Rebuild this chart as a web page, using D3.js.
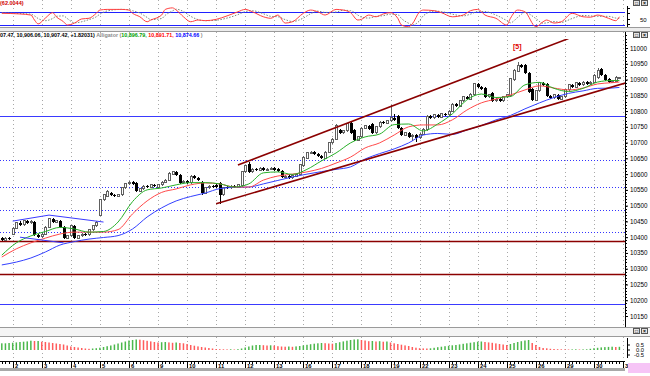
<!DOCTYPE html>
<html>
<head>
<meta charset="utf-8">
<script src="https://cdn.jsdelivr.net/npm/d3@7"></script>
<style>
  body { margin: 0; background: #fff; }
  svg { display: block; font-family: "Liberation Sans", Arial, sans-serif; }
</style>
</head>
<body>
<svg id="chart" width="650" height="376"></svg>
<script>
// ---- data (8 bars per day) ----
const dayLabels = ["2","3","4","5","6","9","10","11","12","13","16","17","18","19","22","23","24","25","26","29","30","31"];

const opens = [
  10397,10391,10397,10410,10429,10445,10439,10452,10445,10448,
  10407,10401,10410,10432,10458,10448,10452,10432,10397,10404,
  10436,10397,10404,10410,10407,10423,10436,10470,10518,10530,
  10540,10534,10530,10534,10556,10569,10575,10572,10546,10553,
  10562,10559,10566,10556,10566,10575,10581,10600,10607,10597,
  10572,10578,10572,10594,10588,10575,10540,10556,10562,10566,
  10572,10534,10559,10556,10562,10559,10563,10607,10632,10607,
  10616,10613,10619,10613,10616,10619,10616,10610,10591,10594,
  10588,10594,10600,10626,10651,10667,10670,10664,10657,10651,
  10670,10699,10711,10740,10731,10737,10762,10740,10708,10718,
  10746,10753,10759,10731,10750,10765,10762,10769,10778,10785,
  10746,10724,10731,10718,10724,10715,10727,10740,10784,10778,
  10788,10781,10791,10788,10800,10822,10816,10832,10845,10838,
  10851,10886,10876,10873,10845,10857,10832,10838,10832,10845,
  10848,10899,10927,10946,10946,10921,10870,10835,10864,10889,
  10886,10848,10842,10851,10838,10845,10867,10883,10876,10889,
  10883,10892,10886,10892,10905,10933,10914,10902,10892,10895,
  10907
];
const highs = [
  10401,10400,10402,10433,10449,10450,10456,10455,10455,10452,
  10411,10413,10436,10462,10461,10456,10455,10435,10408,10440,
  10439,10408,10414,10413,10427,10440,10452,10522,10538,10550,
  10544,10537,10538,10560,10573,10579,10578,10575,10557,10566,
  10565,10570,10569,10569,10578,10585,10607,10611,10610,10600,
  10582,10581,10598,10597,10591,10578,10560,10566,10565,10569,
  10575,10560,10562,10566,10565,10570,10611,10630,10640,10620,
  10619,10623,10622,10620,10623,10622,10619,10613,10598,10597,
  10601,10604,10633,10658,10671,10674,10673,10667,10660,10674,
  10703,10715,10759,10744,10741,10763,10766,10743,10722,10750,
  10757,10756,10762,10754,10769,10768,10773,10819,10790,10788,
  10749,10735,10734,10728,10727,10731,10747,10788,10787,10792,
  10791,10795,10794,10804,10826,10825,10836,10849,10848,10858,
  10890,10889,10879,10876,10855,10860,10842,10841,10849,10855,
  10906,10934,10956,10949,10950,10924,10873,10868,10893,10892,
  10889,10851,10855,10854,10849,10871,10887,10886,10893,10892,
  10896,10895,10896,10918,10937,10936,10917,10905,10899,10912,
  10907.47
];
const lows = [
  10388,10387,10390,10406,10426,10436,10436,10441,10442,10404,
  10397,10398,10407,10430,10445,10444,10429,10393,10394,10401,
  10393,10394,10401,10403,10404,10420,10433,10466,10514,10527,
  10531,10527,10527,10531,10553,10565,10565,10542,10543,10550,
  10555,10556,10558,10552,10563,10572,10578,10597,10594,10568,
  10569,10568,10569,10584,10577,10535,10537,10553,10555,10555,
  10505,10531,10552,10553,10555,10556,10560,10604,10603,10604,
  10609,10610,10609,10610,10613,10609,10606,10587,10588,10584,
  10585,10591,10597,10623,10648,10663,10660,10653,10647,10648,
  10667,10696,10708,10727,10728,10733,10727,10704,10705,10715,
  10743,10739,10727,10728,10747,10758,10759,10766,10768,10742,
  10720,10720,10714,10705,10702,10711,10724,10737,10774,10775,
  10777,10778,10784,10785,10797,10812,10813,10829,10834,10835,
  10848,10872,10866,10841,10842,10828,10829,10828,10829,10842,
  10845,10896,10924,10936,10917,10857,10831,10832,10861,10879,
  10844,10838,10839,10834,10835,10842,10864,10872,10873,10879,
  10880,10882,10883,10889,10902,10910,10895,10888,10889,10892,
  10906.06
];
const closes = [
  10391,10397,10394,10429,10445,10439,10452,10445,10451,10407,
  10401,10410,10432,10458,10448,10452,10432,10397,10404,10436,
  10397,10404,10410,10407,10423,10436,10448,10518,10534,10546,
  10534,10530,10534,10556,10569,10575,10569,10546,10553,10562,
  10559,10566,10562,10566,10575,10581,10603,10607,10597,10572,
  10578,10572,10594,10588,10581,10540,10556,10562,10559,10559,
  10534,10556,10556,10562,10559,10566,10607,10626,10607,10616,
  10613,10619,10613,10616,10619,10613,10610,10591,10594,10588,
  10597,10600,10629,10654,10667,10670,10664,10657,10651,10670,
  10699,10711,10753,10731,10737,10759,10731,10708,10718,10746,
  10753,10743,10731,10750,10765,10762,10769,10778,10772,10746,
  10724,10731,10718,10724,10715,10727,10743,10784,10778,10788,
  10781,10791,10788,10800,10822,10816,10832,10845,10838,10854,
  10886,10876,10870,10845,10851,10832,10838,10832,10845,10851,
  10902,10930,10946,10940,10921,10861,10835,10864,10889,10883,
  10848,10842,10851,10838,10845,10867,10883,10876,10889,10883,
  10892,10886,10892,10914,10930,10914,10899,10892,10895,10908,
  10907.42
];

// Alligator lines, sampled every 4 bars (+ last bar)
const alligatorIdx = [0,4,8,12,16,20,24,28,32,36,40,44,48,52,56,60,64,68,72,76,80,84,88,92,96,100,104,108,112,116,120,124,128,132,136,140,144,148,152,156,160,164,168,170];
const jaw = [10312,10321,10334,10353,10375,10386,10394,10399,10405,10426,10464,10493,10515,10529,10540,10554,10558,10559,10569,10580,10591,10600,10608,10615,10623,10648,10665,10680,10699,10724,10729,10726,10740,10754,10772,10786,10807,10826,10843,10856,10864,10872,10873,10875];
const teeth = [10337,10363,10382,10397,10410,10416,10416,10416,10424,10474,10515,10542,10553,10566,10572,10569,10559,10559,10581,10594,10600,10607,10618,10635,10654,10683,10699,10724,10750,10756,10756,10772,10803,10826,10838,10851,10867,10880,10873,10867,10873,10886,10890,10892];
const lips = [10343,10382,10404,10418,10431,10426,10416,10418,10448,10513,10550,10556,10566,10573,10573,10569,10559,10569,10604,10607,10599,10615,10642,10667,10699,10718,10727,10757,10759,10737,10759,10791,10835,10854,10843,10846,10883,10891,10872,10862,10872,10892,10897,10897];

// horizontal levels drawn on the price pane
const solidBlueLevels = [10785, 10188];
const dottedBlueLevels = [10645, 10559, 10486, 10416];
const redLevels = [10389, 10283];

// hand drawn lines: [bar, price] pairs
const channelUpper = [[65, 10629], [156, 11030]];
const channelLower = [[59, 10506], [172, 10890]];
const triangleUpper = [[3, 10451], [13, 10470], [28, 10448]];
const triangleLower = [[5, 10400], [17, 10382]];

const priceTicks = [11000,10950,10900,10850,10800,10750,10700,10650,10600,10550,10500,10450,10400,10350,10300,10250,10200,10150];

// stochastic (top pane)
const stochIdx = [0,5,8,9,10,12,14,15,17,18,20,22,24,26,27,29,33,35,36,38,40,41,44,45,47,48,50,52,54,56,59,62,65,67,69,72,74,76,78,80,83,85,87,89,92,94,96,98,99,101,103,105,107,109,110,112,113,115,116,119,121,124,127,129,131,133,136,139,140,142,144,147,149,150,152,154,157,160,162,164,167,169,170];
const stochK = [74,71,66,43,25,52,77,58,35,20,29,48,51,74,89,92,92,89,74,58,35,43,66,92,99,89,58,35,43,40,46,62,81,92,81,58,51,66,29,35,74,89,81,66,92,89,77,43,46,66,58,71,77,51,20,12,25,81,89,86,77,58,66,86,92,66,51,20,51,89,81,12,35,43,29,35,74,58,56,66,51,40,58];
const stochD = [76,73,70,62,50,40,50,60,62,50,30,35,45,58,70,85,92,91,86,75,55,45,50,65,85,93,82,60,45,40,42,52,68,82,86,72,60,58,45,36,52,72,84,78,80,88,86,66,56,52,60,63,70,68,50,28,20,40,62,84,82,70,62,70,82,82,66,40,30,55,78,50,28,30,36,32,50,64,62,60,60,52,50];

// histogram (bottom pane), one value per bar
const aoValues = [
  0.67,0.67,0.7,0.73,0.76,0.8,0.83,0.86,0.93,0.9,
  0.9,0.83,0.8,0.75,0.7,0.65,0.6,0.55,0.45,0.35,
  0.3,0.25,0.2,0.15,0.12,0.15,0.18,0.23,0.3,0.38,
  0.45,0.55,0.65,0.75,0.85,0.95,1.0,1.05,1.03,0.98,
  0.92,0.86,0.8,0.75,0.78,0.8,0.76,0.72,0.75,0.7,
  0.67,0.6,0.5,0.43,0.36,0.3,0.25,0.2,0.15,0.1,
  0.08,0.07,0.06,0.07,0.05,0.08,0.15,0.25,0.35,0.45,
  0.5,0.5,0.48,0.45,0.47,0.44,0.38,0.35,0.33,0.35,
  0.32,0.36,0.4,0.46,0.52,0.58,0.63,0.67,0.7,0.68,
  0.65,0.63,0.7,0.78,0.86,0.93,1.0,1.05,1.07,1.0,
  0.95,0.88,0.9,0.85,0.88,0.83,0.85,0.75,0.67,0.6,
  0.53,0.46,0.4,0.3,0.23,0.18,0.16,0.15,0.17,0.22,
  0.28,0.33,0.38,0.42,0.47,0.5,0.56,0.62,0.67,0.73,
  0.78,0.83,0.85,0.8,0.76,0.72,0.66,0.6,0.55,0.5,
  0.6,0.7,0.8,0.88,0.95,1.0,0.7,0.5,0.3,0.2,
  0.17,0.12,0.1,0.08,0.07,0.06,0.05,0.06,0.07,0.05,
  0.06,0.07,0.12,0.18,0.22,0.26,0.29,0.31,0.33,0.3,
  0.32
];

// ---- drawing ----
const svg = d3.select("#chart");
const plotRight = 625;
const font = "'Liberation Sans', Arial, sans-serif";

const x = d3.scaleLinear().domain([0, 170]).range([1.8, 619.4]);
const y = d3.scaleLinear().domain([10150, 11000]).range([316, 48]);
const yS = d3.scaleLinear().domain([20, 80]).range([25, 12]);
const yA = d3.scaleLinear().domain([-0.5, 0.5]).range([355, 345]);

const dayIdx = dayLabels.map((d, k) => 3 + 8 * k);

const defs = svg.append("defs");
function clip(id, x0, y0, w, h) {
  defs.append("clipPath").attr("id", id).append("rect")
    .attr("x", x0).attr("y", y0).attr("width", w).attr("height", h);
}
clip("cS", 0, 0, plotRight, 27);
clip("cM", 0, 39, plotRight, 288);
clip("cA", 0, 337, plotRight, 21);

// pane frames
const frame = svg.append("g").attr("shape-rendering", "crispEdges");
[27.5, 31.5, 327.5, 336.5].forEach(v => {
  frame.append("line").attr("x1", 0).attr("x2", 650).attr("y1", v).attr("y2", v)
    .attr("stroke", "#9a9a9a");
});
frame.append("rect").attr("x", 0).attr("y", 28).attr("width", 650).attr("height", 3).attr("fill", "#ececec");
frame.append("rect").attr("x", 0).attr("y", 328).attr("width", 650).attr("height", 8).attr("fill", "#f4f4f4");

// small window buttons on the right of each pane header
[0, 32, 328].forEach(by => {
  [633, 641].forEach((bx, j) => {
    frame.append("rect").attr("x", bx + 0.5).attr("y", by + 0.5).attr("width", 6).attr("height", 5)
      .attr("fill", "#e4e4e4").attr("stroke", "#555");
    frame.append("text").attr("x", bx + 3.5).attr("y", by + 4.8).attr("text-anchor", "middle")
      .attr("font-size", 5).attr("font-weight", "bold").attr("fill", "#000")
      .text(j === 0 ? "\u25a1" : "\u00d7");
  });
});

// day separators (dotted, all panes)
const grid = svg.append("g");
[[0, 27], [32, 327], [337, 358]].forEach(([a, b]) => {
  grid.selectAll(null).data(dayIdx).join("line")
    .attr("x1", d => Math.round(x(d)) + 0.5).attr("x2", d => Math.round(x(d)) + 0.5)
    .attr("y1", a).attr("y2", b)
    .attr("stroke", "#a8a8a8").attr("stroke-dasharray", "1,3");
});

// ---- top pane: stochastic ----
const gS = svg.append("g").attr("clip-path", "url(#cS)");
[80, 20].forEach(v => {
  gS.append("line").attr("x1", 0).attr("x2", plotRight).attr("y1", Math.round(yS(v)) + 0.5).attr("y2", Math.round(yS(v)) + 0.5)
    .attr("stroke", "#2020ff").attr("stroke-width", 1);
});
const sLine = d3.line().x((d, i) => x(stochIdx[i])).y(d => yS(d)).curve(d3.curveMonotoneX);
gS.append("path").datum(stochD).attr("d", sLine).attr("fill", "none")
  .attr("stroke", "#7a8a7a").attr("stroke-width", 1).attr("stroke-dasharray", "1.5,1.5");
gS.append("path").datum(stochK).attr("d", sLine).attr("fill", "none")
  .attr("stroke", "#ff4040").attr("stroke-width", 1);

svg.append("text").attr("x", 0).attr("y", 4.5).attr("font-size", 5.5).attr("font-weight", "bold")
  .attr("fill", "#d00000").text("(62.0044)");

const axS = svg.append("g").attr("transform", "translate(627,0)");
axS.append("line").attr("x1", 0.5).attr("x2", 0.5).attr("y1", 6).attr("y2", 27).attr("stroke", "#000");
[8, 13, 19, 24].forEach(t => axS.append("line").attr("x1", 0.5).attr("x2", 3).attr("y1", t + 0.5).attr("y2", t + 0.5).attr("stroke", "#000"));
axS.append("text").attr("x", 13).attr("y", 21.5).attr("font-size", 6).attr("fill", "#000").text("50");

// ---- main pane ----
const header = svg.append("text").attr("x", 0).attr("y", 37).attr("font-size", 5.4).attr("font-weight", "bold");
[["07.47, 10,906.06, 10,907.42, +1.82031) ", "#000"], ["Alligator (", "#8a8a8a"],
 ["10,896.79, ", "#00a000"], ["10,891.71, ", "#ff0000"], ["10,874.66", "#0000ff"], [" )", "#8a8a8a"]]
  .forEach(([t, c]) => header.append("tspan").attr("fill", c).text(t));

const gM = svg.append("g").attr("clip-path", "url(#cM)");

// horizontal levels
solidBlueLevels.forEach(p => gM.append("line").attr("x1", 0).attr("x2", plotRight)
  .attr("y1", Math.round(y(p)) + 0.5).attr("y2", Math.round(y(p)) + 0.5).attr("stroke", "#3a3aff"));
dottedBlueLevels.forEach(p => gM.append("line").attr("x1", 0).attr("x2", plotRight)
  .attr("y1", Math.round(y(p)) + 0.5).attr("y2", Math.round(y(p)) + 0.5)
  .attr("stroke", "#3535ff").attr("stroke-dasharray", "1,2"));
redLevels.forEach(p => gM.append("line").attr("x1", 0).attr("x2", plotRight)
  .attr("y1", Math.round(y(p)) + 0.5).attr("y2", Math.round(y(p)) + 0.5)
  .attr("stroke", "#8b0000").attr("stroke-width", 1.4));

// candles
const bars = d3.range(opens.length).map(i => ({ i, o: opens[i], h: highs[i], l: lows[i], c: closes[i] }));
const gC = gM.append("g").attr("shape-rendering", "crispEdges");
gC.selectAll(".wick").data(bars).join("line").attr("class", "wick")
  .attr("x1", d => Math.round(x(d.i)) + 0.5).attr("x2", d => Math.round(x(d.i)) + 0.5)
  .attr("y1", d => y(d.h)).attr("y2", d => y(d.l))
  .attr("stroke", d => d.c >= d.o ? "#606060" : "#000");
gC.selectAll(".body").data(bars).join("rect").attr("class", "body")
  .attr("x", d => d.c >= d.o ? Math.round(x(d.i)) - 0.5 : Math.round(x(d.i)) - 1)
  .attr("width", d => d.c >= d.o ? 2 : 3)
  .attr("y", d => y(Math.max(d.o, d.c)))
  .attr("height", d => Math.max(1, Math.abs(y(d.o) - y(d.c))))
  .attr("fill", d => d.c >= d.o ? "#fff" : "#000")
  .attr("stroke", d => d.c >= d.o ? "#606060" : "none");

// alligator
const aLine = d3.line().x((d, i) => x(alligatorIdx[i])).y(d => y(d)).curve(d3.curveMonotoneX);
[[jaw, "#3340ff"], [teeth, "#ff4a4a"], [lips, "#28b028"]].forEach(([s, c]) => {
  gM.append("path").datum(s).attr("d", aLine).attr("fill", "none").attr("stroke", c).attr("stroke-width", 1);
});

// trend lines
const tLine = d3.line().x(d => x(d[0])).y(d => y(d[1]));
[channelUpper, channelLower].forEach(l => gM.append("path").datum(l).attr("d", tLine)
  .attr("fill", "none").attr("stroke", "#8b0000").attr("stroke-width", 1.6));
[triangleUpper, triangleLower].forEach(l => gM.append("path").datum(l).attr("d", tLine)
  .attr("fill", "none").attr("stroke", "#3a3aff").attr("stroke-width", 1));

svg.append("text").attr("x", 513).attr("y", 49).attr("font-size", 7).attr("font-weight", "bold")
  .attr("fill", "#e00000").text("[5]");

// price axis
const axP = svg.append("g").attr("transform", `translate(${plotRight},0)`)
  .call(d3.axisRight(y).tickValues(priceTicks).tickSize(3).tickPadding(2).tickFormat(d => d));
axP.select(".domain").attr("d", "M0.5,32V327");
axP.selectAll(".tick text").attr("font-size", 6.3).attr("font-family", font).attr("fill", "#000");
axP.selectAll(".tick line").attr("stroke", "#000");
const minorP = d3.range(10150, 11050, 10);
axP.selectAll(".minor").data(minorP).join("line").attr("class", "minor")
  .attr("x1", 0).attr("x2", 1.5).attr("y1", d => Math.round(y(d)) + 0.5).attr("y2", d => Math.round(y(d)) + 0.5)
  .attr("stroke", "#000").attr("shape-rendering", "crispEdges");

// ---- bottom pane: histogram ----
const gA = svg.append("g").attr("clip-path", "url(#cA)");
gA.selectAll("rect").data(aoValues).join("rect")
  .attr("x", (d, i) => x(i) - 0.75).attr("width", 1.5)
  .attr("y", d => yA(d)).attr("height", d => yA(0) - yA(d))
  .attr("fill", (d, i) => (i === 0 || d >= aoValues[i - 1]) ? "#4cb84c" : "#ff5c5c");

const axA = svg.append("g").attr("transform", "translate(627,0)");
axA.append("line").attr("x1", 0.5).attr("x2", 0.5).attr("y1", 338).attr("y2", 358).attr("stroke", "#000");
[["0.5", 0.5], ["0.0", 0], ["-0.5", -0.5]].forEach(([t, v]) => {
  axA.append("line").attr("x1", 0.5).attr("x2", 3).attr("y1", yA(v)).attr("y2", yA(v)).attr("stroke", "#000");
  axA.append("text").attr("x", 17).attr("y", yA(v) + 2).attr("text-anchor", "end")
    .attr("font-size", 5.8).attr("fill", "#000").text(t);
});

// ---- time axis ----
const axT = svg.append("g").attr("transform", "translate(0,361)");
axT.append("line").attr("x1", 0).attr("x2", plotRight).attr("y1", 0.5).attr("y2", 0.5).attr("stroke", "#000");
axT.selectAll(".mt").data(d3.range(opens.length)).join("line").attr("class", "mt")
  .attr("x1", d => Math.round(x(d)) + 0.5).attr("x2", d => Math.round(x(d)) + 0.5)
  .attr("y1", 0.5).attr("y2", 3).attr("stroke", "#000").attr("shape-rendering", "crispEdges");
axT.selectAll(".dt").data(dayIdx).join("line").attr("class", "dt")
  .attr("x1", d => Math.round(x(d)) + 0.5).attr("x2", d => Math.round(x(d)) + 0.5)
  .attr("y1", 0.5).attr("y2", 7).attr("stroke", "#000").attr("shape-rendering", "crispEdges");
axT.selectAll(".dl").data(dayIdx).join("text").attr("class", "dl")
  .attr("x", d => Math.round(x(d)) + 2).attr("y", 6.5)
  .attr("font-size", 5.8).attr("font-weight", "bold").attr("fill", "#000")
  .text((d, k) => dayLabels[k]);
svg.append("rect").attr("x", 0).attr("y", 368).attr("width", plotRight).attr("height", 3).attr("fill", "#a8a8a8");
svg.append("rect").attr("x", 628).attr("y", 363).attr("width", 22).attr("height", 10).attr("fill", "#f6c4f6");
</script>
</body>
</html>
